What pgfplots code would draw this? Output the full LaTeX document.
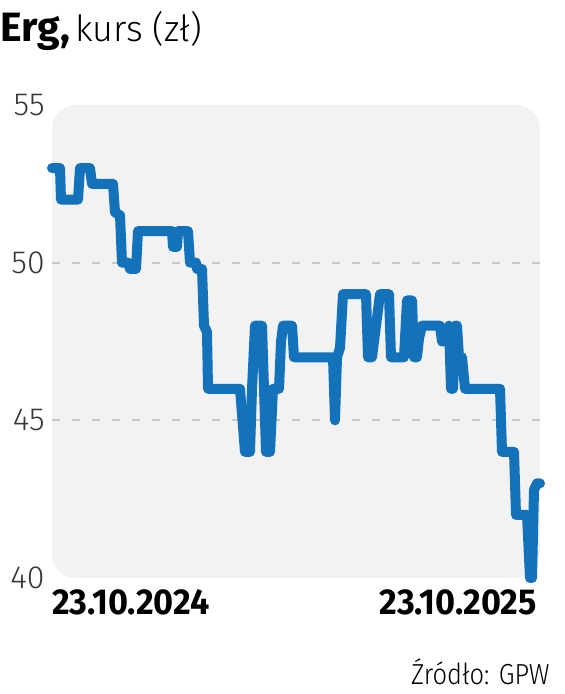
\documentclass[border=0pt]{standalone}
\usepackage{fontspec}
\setmainfont{Fira Sans}
\newfontfamily\lightf{Fira Sans Light}
\newfontfamily\lightn{Fira Sans Light}[FakeStretch=0.88]
\newfontfamily\boldn{Fira Sans}[FakeStretch=0.95]
\usepackage{pgfplots}
\pgfplotsset{compat=1.18}
\definecolor{linec}{RGB}{20,114,186}
\definecolor{bgc}{RGB}{242,242,242}
\definecolor{gridc}{RGB}{200,200,200}
\definecolor{tickc}{RGB}{55,55,55}
\begin{document}
\begin{tikzpicture}
\useasboundingbox (0,0) rectangle (282pt,347pt);
\node[anchor=base west, inner sep=0pt] at (0,326pt) {{\fontsize{20.5}{21}\selectfont\bfseries Erg,} {\lightf\fontsize{18}{18}\selectfont kurs (zł)}};
\begin{axis}[
  at={(26pt,58pt)}, anchor=south west,
  scale only axis, width=244pt, height=236.5pt,
  xmin=52, xmax=540, ymin=40, ymax=55,
  clip=false,
  axis line style={draw=none},
  major tick length=0pt,
  ytick={40,55},
  extra y ticks={45,50},
  extra y tick style={ymajorgrids=true},
  major grid style={gridc, line width=1pt, dash pattern=on 4pt off 6pt},
  axis background/.style={fill=bgc, draw=none, rounded corners=12pt},
  /pgf/number format/assume math mode=true,
  yticklabel style={anchor=east, inner sep=0pt, xshift=-3.5pt, text=tickc, font=\lightf\fontsize{16}{16}\selectfont},
  xtick={52},
  xticklabels={23.10.2024},
  extra x ticks={540},
  extra x tick labels={23.10.2025},
  xticklabel style={anchor=north west, inner sep=0pt, yshift=-5.5pt, font=\boldn\bfseries\fontsize{18}{18}\selectfont},
  extra x tick style={xticklabel style={anchor=north east, xshift=-1.5pt}},
]
\addplot[linec, line width=5pt, line join=round, line cap=round] coordinates {
(52,53) (60,53) (61,52) (78,52) (80,53) (90,53) (92,52.5) (113,52.5)
(115,51.6) (120,51.5) (122,50) (128,50) (130,49.8) (136,49.8) (138,51)
(172,51) (173,50.5) (177,50.5) (178,51) (188,51) (190,50) (196,50)
(197,49.8) (202,49.8) (204,48) (207,47.8) (208,46) (240,46) (242,45.2)
(245,44) (250,44) (252,46) (255,48) (262,48) (264,46) (266,44) (270,44)
(273,46) (279,46) (281,47.5) (283,48) (292,48) (294,47) (331,47)
(333,47) (335,45) (337,47) (340,47.3) (343,49) (366,49) (368,47)
(372,47) (374,47.5) (380,49) (389,49) (391,47) (404,47) (407,48.8)
(412,48.8) (414,47) (417,47) (419,47.6) (422,48) (440,48) (442,47.5)
(447,47.5) (449,48) (451,46) (453,46) (455,48) (457,48) (459,47)
(462,47) (465,46) (500,46) (502,44) (514,44) (516,42) (527,42)
(530,40) (532,40) (534,42.8) (537,43) (540,43)
};
\end{axis}
\node[anchor=base east, inner sep=0pt] at (275pt,5pt) {\lightn\fontsize{14.5}{15}\selectfont Źródło: GPW};
\end{tikzpicture}
\end{document}
